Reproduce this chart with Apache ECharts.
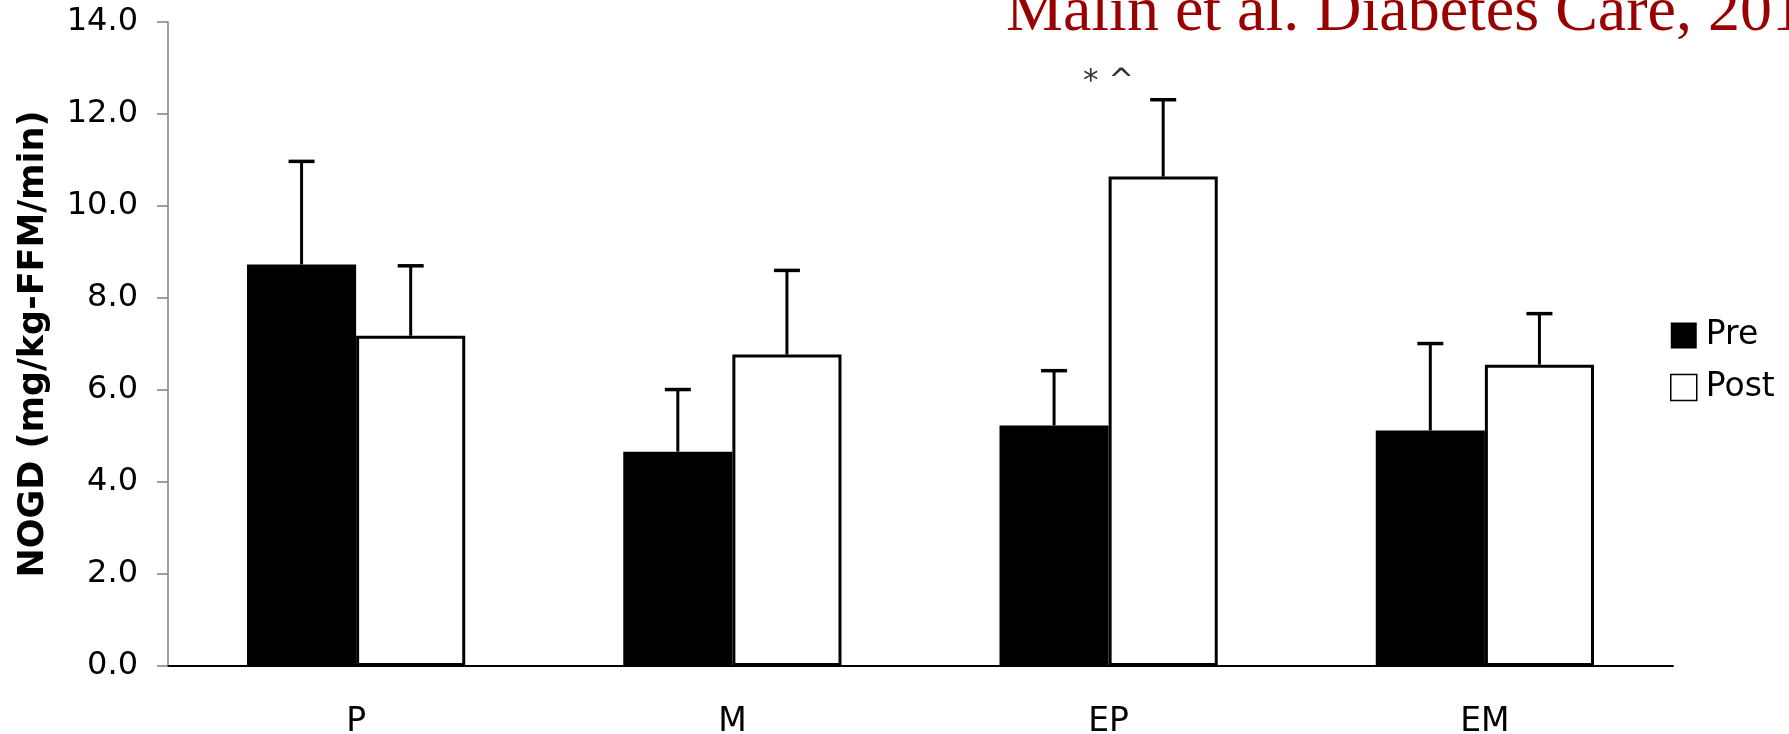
<!DOCTYPE html>
<html>
<head>
<meta charset="utf-8">
<script src="https://cdn.jsdelivr.net/npm/echarts@6/dist/echarts.min.js"></script>
<style>
html,body{margin:0;padding:0;background:#fff;}
#chart{width:1789px;height:734px;}
</style>
</head>
<body>
<div id="chart"></div>
<script>
const categories = ['P', 'M', 'EP', 'EM'];
const seriesNames = ['Pre', 'Post'];
const preMeans = [8.73, 4.66, 5.23, 5.12];
const preSE = [2.24, 1.35, 1.19, 1.89];
const postMeans = [7.18, 6.77, 10.64, 6.55];
const postSE = [1.52, 1.83, 1.67, 1.11];
const yMin = 0, yMax = 14, yInterval = 2;
const annotationCats = ['EP'];
const annotationY = [12.7];
const annotationText = ['* ^'];
const citation = 'Malin et al. Diabetes Care, 2013';

const GAP = 0.42;
const chart = echarts.init(document.getElementById('chart'), null, { renderer: 'canvas' });

function errRender(sign) {
  return function (params, api) {
    const x = api.value(0), m = api.value(1), e = api.value(2);
    const base = api.coord([x, m]);
    const top = api.coord([x, m + e]);
    const band = api.size([1, 0])[0];
    const bw = band * (1 - GAP) / 2;
    const cx = base[0] + sign * bw / 2;
    return {
      type: 'group',
      children: [
        { type: 'line', shape: { x1: cx, y1: base[1], x2: cx, y2: top[1] }, style: { stroke: '#000', lineWidth: 3 } },
        { type: 'line', shape: { x1: cx - 13, y1: top[1], x2: cx + 13, y2: top[1] }, style: { stroke: '#000', lineWidth: 3.5 } }
      ]
    };
  };
}

const option = {
  backgroundColor: '#fff',
  animation: false,
  grid: { left: 168, right: 116, top: 22, bottom: 68, containLabel: false, outerBoundsMode: 'none' },
  graphic: [{
    type: 'text', left: 1006, top: -19, silent: true,
    style: { text: citation, fill: '#990000', font: '64px "Liberation Serif", "Times New Roman", serif' }
  }],
  legend: {
    orient: 'vertical', left: 1670, top: 319, padding: 0,
    itemWidth: 26, itemHeight: 26, itemGap: 19,
    icon: 'rect',
    textStyle: { fontFamily: 'DejaVu Sans', fontSize: 33, color: '#000', padding: [0, 0, 0, 4] },
    data: [
      { name: 'Pre' },
      { name: 'Post', itemStyle: { color: '#fff', borderColor: '#000', borderWidth: 1.5 } }
    ]
  },
  xAxis: {
    type: 'category', data: categories,
    axisLine: { lineStyle: { color: '#000', width: 2 } },
    axisTick: { length: 12, lineStyle: { color: '#808080', width: 1 } },
    axisLabel: { fontFamily: 'DejaVu Sans', fontSize: 33, color: '#000', margin: 40 },
    splitLine: { show: false }
  },
  yAxis: {
    type: 'value', min: yMin, max: yMax, interval: yInterval,
    name: 'NOGD (mg/kg-FFM/min)', nameLocation: 'middle', nameRotate: 90, nameGap: 117,
    nameTextStyle: { fontFamily: 'DejaVu Sans', fontWeight: 'bold', fontSize: 35, color: '#000' },
    axisLine: { show: true, lineStyle: { color: '#808080', width: 1.5 } },
    axisTick: { show: true, length: 11, lineStyle: { color: '#808080', width: 1.5 } },
    axisLabel: { fontFamily: 'DejaVu Sans', fontSize: 32, color: '#000', margin: 30, formatter: v => v.toFixed(1) },
    splitLine: { show: false }
  },
  series: [
    {
      name: seriesNames[0], type: 'bar', data: preMeans,
      barGap: '0%', barCategoryGap: (GAP * 100) + '%',
      itemStyle: { color: '#000', borderColor: '#000', borderWidth: 0 }
    },
    {
      name: seriesNames[1], type: 'bar', data: postMeans,
      barGap: '0%', barCategoryGap: (GAP * 100) + '%',
      itemStyle: { color: '#fff', borderColor: '#000', borderWidth: 3 }
    },
    {
      name: 'preErr', type: 'custom', z: 5,
      renderItem: errRender(-1),
      data: categories.map((c, i) => [i, preMeans[i], preSE[i]])
    },
    {
      name: 'postErr', type: 'custom', z: 5,
      renderItem: errRender(1),
      data: categories.map((c, i) => [i, postMeans[i], postSE[i]])
    },
    {
      name: 'annot', type: 'scatter', symbolSize: 0, silent: true, z: 6,
      label: { show: true, position: 'inside', fontFamily: 'DejaVu Sans', fontSize: 31, color: '#000', formatter: p => p.data[2] },
      data: annotationCats.map((c, i) => [c, annotationY[i], annotationText[i]])
    }
  ]
};
chart.setOption(option);
</script>
</body>
</html>
